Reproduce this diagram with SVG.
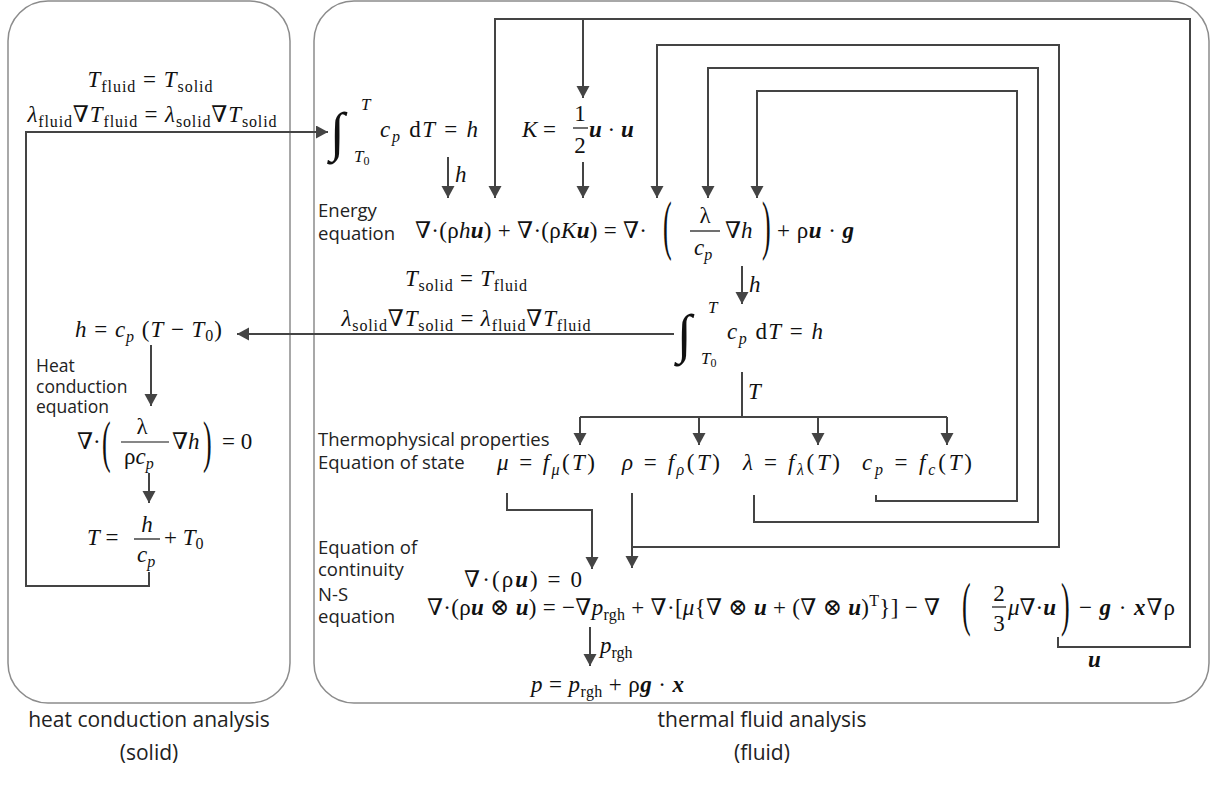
<svg xmlns="http://www.w3.org/2000/svg" width="1216" height="787" viewBox="0 0 1216 787">
<defs>
<marker id="ah" markerUnits="userSpaceOnUse" markerWidth="14" markerHeight="14" refX="12" refY="6.5" orient="auto" viewBox="0 0 14 14">
<path d="M0,0 L12,6.5 L0,13 z" fill="#444"/>
</marker>
<style>
.m{font-family:"Liberation Serif","DejaVu Serif",serif;font-size:23px;fill:#111}
.i{font-style:italic}
.b{font-style:italic;font-weight:bold}
.s{font-size:16px}
.t{font-size:17px}
.lb{font-family:"Open Sans","Noto Sans",sans-serif;font-size:18.5px;fill:#222}
.lh{font-family:"Open Sans","Noto Sans",sans-serif;font-size:17.5px;fill:#222}
.cap{font-family:"Open Sans","Noto Sans",sans-serif;font-size:21px;fill:#222;text-anchor:middle}
.box{fill:none;stroke:#8c8c8c;stroke-width:1.5}
.ln{fill:none;stroke:#444;stroke-width:2}
.ar{marker-end:url(#ah)}
.bar{stroke:#111;stroke-width:1.2}
.bp{font-family:"Liberation Serif","DejaVu Serif",serif;font-size:26px;fill:#111}
.int{font-family:"Liberation Serif","DejaVu Serif",serif;font-size:54px;font-style:italic;fill:#111}
</style>
</defs>
<rect width="1216" height="787" fill="#fff"/>

<g id="solid-region">
<rect class="box" x="8" y="1" width="282" height="702" rx="40"/>
<text class="cap" x="149" y="727">heat conduction analysis<tspan x="149" dy="33">(solid)</tspan></text>
</g>
<g id="fluid-region">
<rect class="box" x="314" y="1" width="895" height="702" rx="40"/>
<text class="cap" x="762" y="727">thermal fluid analysis<tspan x="762" dy="33">(fluid)</tspan></text>
</g>

<g id="connectors">
<path class="ln ar" d="M149,572 V586 H26 V132 H328"/>
<path class="ln ar" d="M674,334 H237"/>
<path class="ln ar" d="M151,345 V406"/>
<path class="ln ar" d="M149,473 V503"/>
<path class="ln ar" d="M448,157 V198"/>
<path class="ln ar" d="M1058,637 V647 H1190 V19 H495 V198"/>
<path class="ln ar" d="M583,19 V98"/>
<path class="ln ar" d="M583,162 V198"/>
<path class="ln ar" d="M632,547 H1059 V45 H657 V198"/>
<path class="ln ar" d="M754,495 V522 H1038 V68 H708 V198"/>
<path class="ln ar" d="M876,495 V501 H1017 V91 H757 V198"/>
<path class="ln ar" d="M742,266 V304"/>
<path class="ln" d="M742,372 V417 M580,417 H947"/>
<path class="ln ar" d="M580,417 V445"/>
<path class="ln ar" d="M699,417 V445"/>
<path class="ln ar" d="M818,417 V445"/>
<path class="ln ar" d="M947,417 V445"/>
<path class="ln ar" d="M507,493 V510 H592 V569"/>
<path class="ln ar" d="M632,493 V568"/>
<path class="ln ar" d="M590,627 V666"/>
<text class="m i" x="455" y="182">h</text>
<text class="m i" x="749" y="292">h</text>
<text class="m i" x="748" y="399">T</text>
<text class="m" x="600" y="653"><tspan class="i">p</tspan><tspan class="s" dy="5">rgh</tspan></text>
<text class="m b" x="1088" y="667">u</text>
</g>

<g id="bc-solid-to-fluid">
<text class="m" x="150" y="87" text-anchor="middle" textLength="125"><tspan class="i">T</tspan><tspan class="s" dy="5">fluid</tspan><tspan dy="-5"> = </tspan><tspan class="i">T</tspan><tspan class="s" dy="5">solid</tspan></text>
<text class="m" x="152" y="122" text-anchor="middle" textLength="249"><tspan class="i">λ</tspan><tspan class="s" dy="5">fluid</tspan><tspan dy="-5">∇</tspan><tspan class="i">T</tspan><tspan class="s" dy="5">fluid</tspan><tspan dy="-5"> = </tspan><tspan class="i">λ</tspan><tspan class="s" dy="5">solid</tspan><tspan dy="-5">∇</tspan><tspan class="i">T</tspan><tspan class="s" dy="5">solid</tspan></text>
</g>

<g id="enthalpy-in">
<text class="int" x="330" y="150">∫</text>
<text class="m i t" x="361" y="110">T</text>
<text class="m" x="354" y="162"><tspan class="i t">T</tspan><tspan font-size="12" dy="3">0</tspan></text>
<text class="m" x="380" y="137" textLength="98"><tspan class="i">c</tspan><tspan class="i s" dy="5">p</tspan><tspan dy="-5"> d</tspan><tspan class="i">T</tspan> = <tspan class="i">h</tspan></text>
</g>

<g id="kinetic-energy">
<text class="m" x="522" y="137"><tspan class="i">K</tspan> =</text>
<text class="m" x="580" y="121" text-anchor="middle">1</text>
<line class="bar" x1="573" y1="128" x2="588" y2="128"/>
<text class="m" x="580" y="153" text-anchor="middle">2</text>
<text class="m" x="589" y="137"><tspan class="b">u</tspan> · <tspan class="b">u</tspan></text>
</g>

<g id="energy-equation">
<text class="lb" x="318" y="217">Energy<tspan x="318" dy="23">equation</tspan></text>
<text class="m" x="415" y="238" textLength="232">∇·(ρ<tspan class="i">h</tspan><tspan class="b">u</tspan>) + ∇·(ρ<tspan class="i">K</tspan><tspan class="b">u</tspan>) = ∇·</text>
<text class="bp" transform="translate(663,247) scale(1,2.5)">(</text>
<text class="m" x="705" y="223" text-anchor="middle">λ</text>
<line class="bar" x1="690" y1="231" x2="720" y2="231"/>
<text class="m" x="694" y="255"><tspan class="i">c</tspan><tspan class="i s" dy="5">p</tspan></text>
<text class="m" x="725" y="238">∇<tspan class="i">h</tspan></text>
<text class="bp" transform="translate(762,247) scale(1,2.5)">)</text>
<text class="m" x="777" y="238" textLength="77">+ ρ<tspan class="b">u</tspan> · <tspan class="b">g</tspan></text>
</g>

<g id="temperature-out">
<text class="int" x="677" y="352">∫</text>
<text class="m i t" x="708" y="313">T</text>
<text class="m" x="701" y="364"><tspan class="i t">T</tspan><tspan font-size="12" dy="3">0</tspan></text>
<text class="m" x="727" y="339" textLength="96"><tspan class="i">c</tspan><tspan class="i s" dy="5">p</tspan><tspan dy="-5"> d</tspan><tspan class="i">T</tspan> = <tspan class="i">h</tspan></text>
</g>

<g id="bc-fluid-to-solid">
<text class="m" x="466" y="286" text-anchor="middle" textLength="122"><tspan class="i">T</tspan><tspan class="s" dy="5">solid</tspan><tspan dy="-5"> = </tspan><tspan class="i">T</tspan><tspan class="s" dy="5">fluid</tspan></text>
<text class="m" x="466" y="326" text-anchor="middle" textLength="249"><tspan class="i">λ</tspan><tspan class="s" dy="5">solid</tspan><tspan dy="-5">∇</tspan><tspan class="i">T</tspan><tspan class="s" dy="5">solid</tspan><tspan dy="-5"> = </tspan><tspan class="i">λ</tspan><tspan class="s" dy="5">fluid</tspan><tspan dy="-5">∇</tspan><tspan class="i">T</tspan><tspan class="s" dy="5">fluid</tspan></text>
</g>

<g id="solid-enthalpy">
<text class="m" x="75" y="337" textLength="147"><tspan class="i">h</tspan> = <tspan class="i">c</tspan><tspan class="i s" dy="5">p</tspan><tspan dy="-5"> (</tspan><tspan class="i">T</tspan> − <tspan class="i">T</tspan><tspan class="s" dy="4">0</tspan><tspan dy="-4">)</tspan></text>
</g>

<g id="heat-conduction-equation">
<text class="lh" x="36" y="372">Heat<tspan x="36" dy="21">conduction</tspan><tspan x="36" dy="20">equation</tspan></text>
<text class="m" x="77" y="449">∇·</text>
<text class="bp" transform="translate(102,461) scale(1,2.2)">(</text>
<text class="m" x="142" y="434" text-anchor="middle">λ</text>
<line class="bar" x1="121" y1="442" x2="169" y2="442"/>
<text class="m" x="124" y="464">ρ<tspan class="i">c</tspan><tspan class="i s" dy="5">p</tspan></text>
<text class="m" x="172" y="449">∇<tspan class="i">h</tspan></text>
<text class="bp" transform="translate(203,461) scale(1,2.2)">)</text>
<text class="m" x="222" y="449">= 0</text>
</g>

<g id="solid-temperature">
<text class="m" x="87" y="545"><tspan class="i">T</tspan> =</text>
<text class="m i" x="147" y="532" text-anchor="middle">h</text>
<line class="bar" x1="134" y1="539" x2="160" y2="539"/>
<text class="m" x="137" y="562"><tspan class="i">c</tspan><tspan class="i s" dy="5">p</tspan></text>
<text class="m" x="164" y="545">+ <tspan class="i">T</tspan><tspan class="s" dy="4">0</tspan></text>
</g>

<g id="properties">
<text class="lb" x="318" y="446">Thermophysical properties<tspan x="318" dy="23">Equation of state</tspan></text>
<text class="m" x="497" y="470" textLength="98"><tspan class="i">μ</tspan> = <tspan class="i">f</tspan><tspan class="i s" dy="5">μ</tspan><tspan dy="-5">(</tspan><tspan class="i">T</tspan>)</text>
<text class="m" x="622" y="470" textLength="98"><tspan class="i">ρ</tspan> = <tspan class="i">f</tspan><tspan class="i s" dy="5">ρ</tspan><tspan dy="-5">(</tspan><tspan class="i">T</tspan>)</text>
<text class="m" x="743" y="470" textLength="97"><tspan class="i">λ</tspan> = <tspan class="i">f</tspan><tspan class="i s" dy="5">λ</tspan><tspan dy="-5">(</tspan><tspan class="i">T</tspan>)</text>
<text class="m" x="862" y="470" textLength="110"><tspan class="i">c</tspan><tspan class="i s" dy="5">p</tspan><tspan dy="-5"> = </tspan><tspan class="i">f</tspan><tspan class="i s" dy="5">c</tspan><tspan dy="-5">(</tspan><tspan class="i">T</tspan>)</text>
</g>

<g id="continuity">
<text class="lb" x="318" y="554">Equation of<tspan x="318" dy="22">continuity</tspan></text>
<text class="m" x="464" y="587" textLength="118">∇·(ρ<tspan class="b">u</tspan>) = 0</text>
</g>

<g id="navier-stokes">
<text class="lb" x="318" y="601">N-S<tspan x="318" dy="22">equation</tspan></text>
<text class="m" x="427" y="615" textLength="513">∇·(ρ<tspan class="b">u</tspan> ⊗ <tspan class="b">u</tspan>) = −∇<tspan class="i">p</tspan><tspan class="s" dy="5">rgh</tspan><tspan dy="-5"> + ∇·[</tspan><tspan class="i">μ</tspan>{∇ ⊗ <tspan class="b">u</tspan> + (∇ ⊗ <tspan class="b">u</tspan>)<tspan class="s" dy="-9">T</tspan><tspan dy="9">}] − ∇</tspan></text>
<text class="bp" transform="translate(962,624) scale(1,2.3)">(</text>
<text class="m" x="999" y="601" text-anchor="middle">2</text>
<line class="bar" x1="992" y1="607" x2="1006" y2="607"/>
<text class="m" x="999" y="631" text-anchor="middle">3</text>
<text class="m" x="1008" y="615"><tspan class="i">μ</tspan>∇·<tspan class="b">u</tspan></text>
<text class="bp" transform="translate(1061,624) scale(1,2.3)">)</text>
<text class="m" x="1079" y="615" textLength="96">− <tspan class="b">g</tspan> · <tspan class="b">x</tspan>∇ρ</text>
</g>

<g id="pressure">
<text class="m" x="531" y="692" textLength="153"><tspan class="i">p</tspan> = <tspan class="i">p</tspan><tspan class="s" dy="5">rgh</tspan><tspan dy="-5"> + ρ</tspan><tspan class="b">g</tspan> · <tspan class="b">x</tspan></text>
</g>
</svg>
